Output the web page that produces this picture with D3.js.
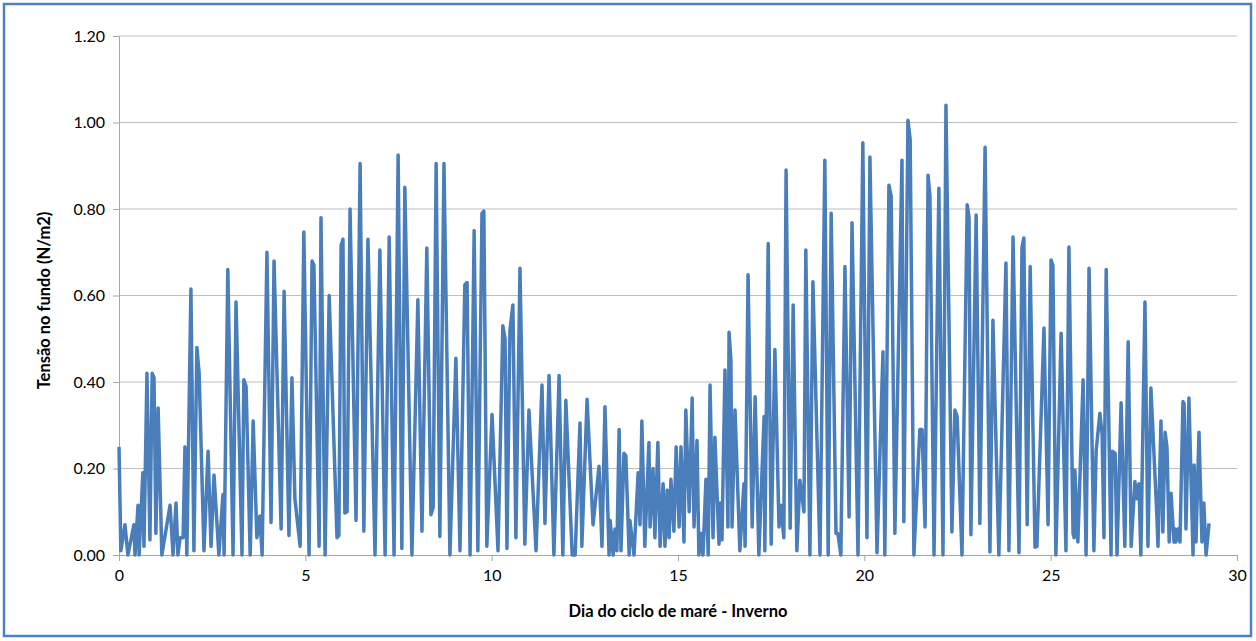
<!DOCTYPE html>
<html><head><meta charset="utf-8">
<script src="https://cdn.jsdelivr.net/npm/d3@7"></script>
<style>
html,body{margin:0;padding:0;background:#fff;}
svg{display:block;}
</style></head>
<body>
<svg id="chart" width="1256" height="641"></svg>
<script>
// Day of tidal cycle (x) and bottom shear stress N/m2 (y)
const days = [
0.00,0.05,0.16,0.24,0.40,0.43,0.51,0.54,0.64,0.67,0.75,0.83,0.89,0.94,0.99,1.05,1.15,1.37,1.45,1.53,
1.58,1.64,1.72,1.77,1.82,1.93,2.01,2.09,2.15,2.28,2.39,2.47,2.55,2.68,2.79,2.82,2.92,3.06,3.14,3.30,
3.35,3.41,3.52,3.60,3.70,3.78,3.84,3.97,4.08,4.16,4.35,4.43,4.56,4.64,4.72,4.86,4.96,5.10,5.18,5.23,
5.37,5.42,5.53,5.64,5.85,5.90,5.96,6.01,6.06,6.12,6.20,6.36,6.47,6.57,6.68,6.87,7.00,7.14,7.25,7.38,
7.49,7.59,7.67,7.86,8.02,8.13,8.26,8.37,8.43,8.51,8.61,8.72,8.88,9.04,9.15,9.28,9.34,9.42,9.53,9.63,
9.74,9.79,9.87,10.01,10.17,10.30,10.36,10.41,10.49,10.57,10.65,10.76,10.89,11.00,11.19,11.35,11.43,11.54,11.67,11.81,
11.91,11.99,12.16,12.24,12.37,12.42,12.56,12.72,12.88,12.96,13.04,13.15,13.18,13.26,13.31,13.36,13.42,13.47,13.55,13.60,
13.69,13.71,13.82,13.93,13.98,14.03,14.11,14.22,14.25,14.33,14.38,14.46,14.52,14.60,14.65,14.71,14.76,14.81,14.89,14.95,
15.03,15.08,15.16,15.21,15.30,15.38,15.43,15.51,15.56,15.62,15.67,15.75,15.81,15.86,15.94,15.99,16.10,16.13,16.18,16.26,
16.34,16.37,16.42,16.45,16.53,16.66,16.77,16.80,16.88,16.99,17.07,17.17,17.31,17.33,17.42,17.50,17.60,17.71,17.76,17.84,
17.90,18.01,18.09,18.19,18.27,18.38,18.43,18.54,18.62,18.81,18.94,19.03,19.11,19.24,19.29,19.37,19.48,19.59,19.67,19.83,
19.96,20.07,20.15,20.34,20.50,20.55,20.66,20.72,20.82,21.01,21.06,21.17,21.23,21.33,21.49,21.55,21.63,21.71,21.76,21.87,
22.00,22.11,22.19,22.35,22.43,22.49,22.62,22.76,22.81,22.86,23.00,23.10,23.24,23.37,23.45,23.61,23.80,23.88,23.99,24.15,
24.23,24.28,24.37,24.45,24.58,24.63,24.82,24.93,25.01,25.06,25.14,25.28,25.41,25.49,25.60,25.63,25.65,25.73,25.87,25.95,
26.03,26.16,26.22,26.32,26.38,26.43,26.49,26.62,26.65,26.73,26.78,26.89,26.99,27.08,27.16,27.26,27.32,27.37,27.42,27.53,
27.61,27.69,27.85,27.88,27.96,28.01,28.07,28.12,28.18,28.23,28.31,28.34,28.36,28.42,28.47,28.55,28.58,28.63,28.71,28.82,
28.85,28.90,28.98,29.06,29.11,29.17,29.25
];
const stress = [
0.25,0.01,0.07,0.00,0.07,0.00,0.115,0.00,0.19,0.02,0.42,0.035,0.42,0.41,0.05,0.34,0.00,0.115,0.00,0.12,
0.00,0.04,0.04,0.25,0.00,0.615,0.01,0.48,0.42,0.01,0.24,0.02,0.185,0.00,0.14,0.00,0.66,0.00,0.585,0.00,
0.405,0.39,0.00,0.31,0.04,0.09,0.00,0.70,0.075,0.68,0.06,0.61,0.045,0.41,0.13,0.02,0.747,0.00,0.68,0.67,
0.02,0.78,0.00,0.60,0.04,0.045,0.715,0.73,0.097,0.10,0.80,0.08,0.905,0.055,0.73,0.00,0.705,0.00,0.735,0.00,
0.925,0.015,0.85,0.00,0.59,0.055,0.71,0.093,0.11,0.905,0.043,0.905,0.00,0.455,0.01,0.625,0.63,0.00,0.75,0.01,
0.79,0.795,0.02,0.325,0.01,0.53,0.50,0.015,0.52,0.578,0.04,0.663,0.025,0.335,0.01,0.393,0.073,0.415,0.00,0.415,
0.00,0.358,0.00,0.00,0.305,0.02,0.36,0.07,0.205,0.02,0.343,0.00,0.08,0.00,0.06,0.01,0.29,0.01,0.235,0.23,
0.00,0.08,0.00,0.19,0.07,0.31,0.02,0.26,0.065,0.20,0.04,0.26,0.02,0.165,0.02,0.15,0.04,0.175,0.055,0.25,
0.065,0.25,0.03,0.335,0.10,0.363,0.065,0.265,0.00,0.05,0.00,0.175,0.00,0.393,0.04,0.272,0.025,0.12,0.035,0.428,
0.065,0.515,0.45,0.065,0.335,0.01,0.165,0.02,0.648,0.065,0.366,0.00,0.32,0.01,0.72,0.025,0.475,0.065,0.115,0.04,
0.89,0.062,0.578,0.01,0.173,0.10,0.705,0.00,0.632,0.00,0.913,0.00,0.79,0.05,0.05,0.00,0.667,0.088,0.768,0.00,
0.953,0.04,0.92,0.005,0.47,0.00,0.855,0.83,0.05,0.913,0.077,1.005,0.96,0.00,0.29,0.29,0.065,0.878,0.83,0.00,
0.848,0.00,1.04,0.053,0.335,0.32,0.00,0.81,0.78,0.047,0.786,0.073,0.943,0.007,0.543,0.00,0.675,0.01,0.735,0.005,
0.71,0.733,0.07,0.667,0.018,0.02,0.525,0.07,0.682,0.67,0.00,0.513,0.01,0.712,0.05,0.04,0.196,0.03,0.405,0.00,
0.663,0.01,0.24,0.328,0.28,0.04,0.66,0.00,0.24,0.235,0.00,0.352,0.02,0.493,0.02,0.17,0.13,0.165,0.00,0.585,
0.02,0.386,0.09,0.02,0.31,0.053,0.284,0.25,0.03,0.143,0.03,0.06,0.03,0.06,0.03,0.355,0.35,0.06,0.363,0.00,
0.208,0.03,0.284,0.03,0.12,0.00,0.073
];
const xTicks = [0,5,10,15,20,25,30];
const yTicks = [0,0.2,0.4,0.6,0.8,1.0,1.2];
const xTitle = "Dia do ciclo de maré - Inverno";
const yTitle = "Tensão no fundo (N/m2)";

(function(){
const svg = d3.select("#chart");
const font = "Lato, 'Open Sans', 'Liberation Sans', sans-serif";
svg.append("rect").attr("x",4).attr("y",4).attr("width",1247).attr("height",632)
  .attr("fill","#fff").attr("stroke","#4F81BD").attr("stroke-width",2.5);

const mL=119, mR=1237, mT=36, mB=555;
const x = d3.scaleLinear().domain([0,30]).range([mL,mR]);
const y = d3.scaleLinear().domain([0,1.2]).range([mB,mT]);

svg.append("g").selectAll("line").data(yTicks.filter(d=>d>0)).join("line")
  .attr("x1",mL).attr("x2",mR).attr("y1",d=>y(d)).attr("y2",d=>y(d))
  .attr("stroke","#BEBEBE").attr("stroke-width",1);

const yAxis = svg.append("g").attr("transform",`translate(${mL},0)`)
  .call(d3.axisLeft(y).tickValues(yTicks).tickFormat(d3.format(".2f")).tickSize(6).tickPadding(8));
yAxis.select(".domain").attr("stroke","#A6A6A6");
yAxis.selectAll(".tick line").attr("stroke","#A6A6A6");
yAxis.selectAll("text").attr("font-family",font).attr("font-size",16).attr("fill","#000");

const xAxis = svg.append("g").attr("transform",`translate(0,${mB})`)
  .call(d3.axisBottom(x).tickValues(xTicks).tickSize(6).tickPadding(9));
xAxis.select(".domain").attr("stroke","#A6A6A6");
xAxis.selectAll(".tick line").attr("stroke","#A6A6A6");
xAxis.selectAll("text").attr("font-family",font).attr("font-size",16).attr("fill","#000");

const n = Math.min(days.length, stress.length);
const pts = d3.range(n).map(i=>[days[i],stress[i]]);
svg.append("path").datum(pts)
  .attr("fill","none").attr("stroke","#4A7EBB").attr("stroke-width",3.5).attr("stroke-linejoin","round")
  .attr("d", d3.line().x(d=>x(d[0])).y(d=>y(d[1])));

svg.append("text").attr("x",(mL+mR)/2).attr("y",617).attr("text-anchor","middle")
  .attr("font-family",font).attr("font-size",16.5).attr("font-weight","bold").text(xTitle);
svg.append("text").attr("transform",`translate(50,${(mT+mB)/2+5}) rotate(-90)`).attr("text-anchor","middle")
  .attr("font-family",font).attr("font-size",16.5).attr("font-weight","bold").text(yTitle);
})();
</script>
</body></html>
